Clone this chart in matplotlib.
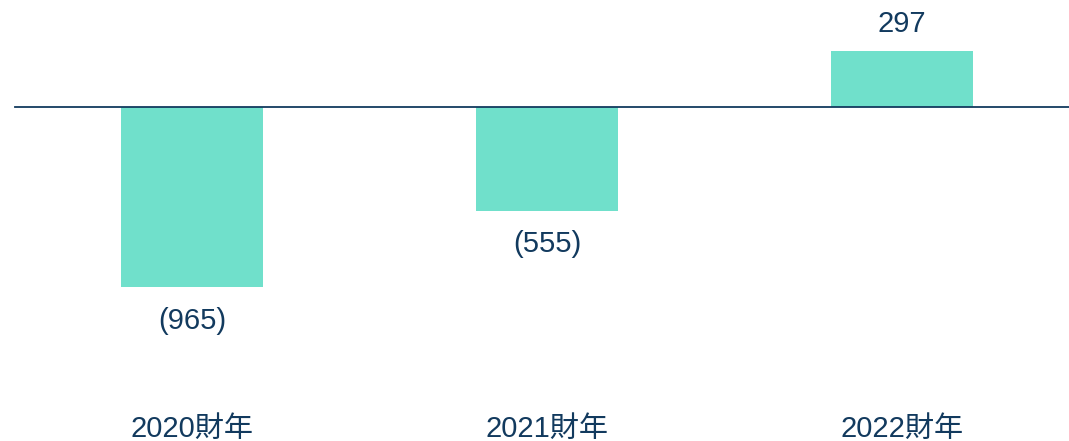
import matplotlib.pyplot as plt

plt.rcParams['font.family'] = ['Liberation Sans', 'Noto Sans CJK TC']

categories = ['2020財年', '2021財年', '2022財年']
values = [-965, -555, 297]
value_labels = ['(965)', '(555)', '297']

bar_color = '#70e0cb'
text_color = '#123a5e'

fig = plt.figure(figsize=(10.69, 4.41), dpi=100)
ax = fig.add_axes([0, 0, 1, 1])

x = list(range(len(categories)))
ax.bar(x, values, width=0.4, color=bar_color, zorder=2)
ax.axhline(0, xmin=15 / 1069, xmax=1, color=text_color, linewidth=1.3, zorder=3)

for xi, v, lab in zip(x, values, value_labels):
    if v < 0:
        ax.annotate(lab, (xi, v), xytext=(0, -24), textcoords='offset points',
                    ha='center', va='center', fontsize=21, color=text_color)
    else:
        ax.annotate(lab, (xi, v), xytext=(0, 20), textcoords='offset points',
                    ha='center', va='center', fontsize=21, color=text_color)

for xi, cat in zip(x, categories):
    ax.text(xi, 12 / 441, cat, transform=ax.get_xaxis_transform(),
            ha='center', va='center', fontsize=21, color=text_color)

ax.set_xlim(-192 / 355, (1069 - 192) / 355)
ax.set_ylim(-334 / 0.187, 107 / 0.187)
ax.axis('off')

fig.savefig('out.png', dpi=100)
